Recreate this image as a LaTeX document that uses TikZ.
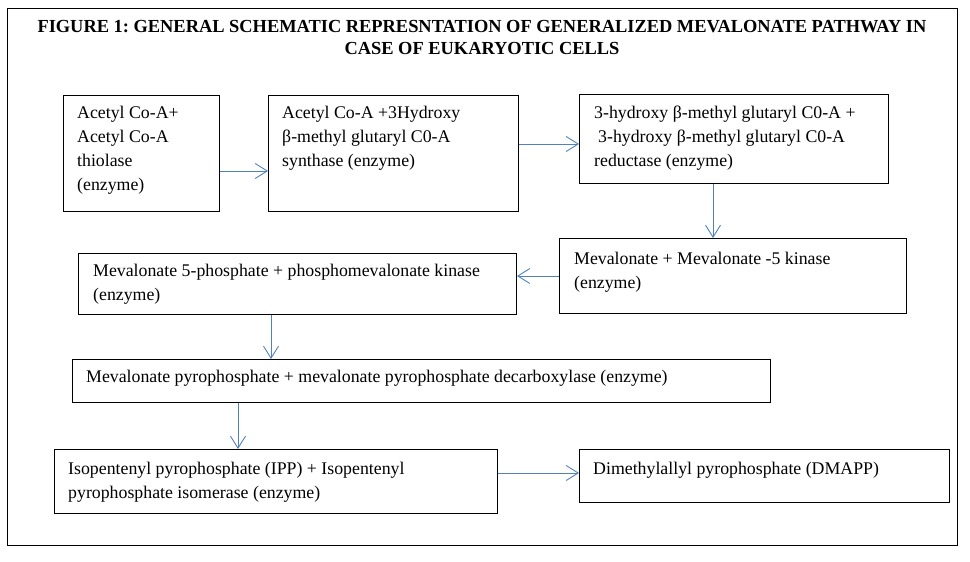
\documentclass[tikz,border=0pt]{standalone}
\usepackage{fontspec}
\setmainfont{Liberation Serif}
\usetikzlibrary{arrows.meta}
\definecolor{arrblue}{HTML}{4F81BD}
\frenchspacing
\tikzset{
  box/.style={draw=black, line width=1pt, rectangle, inner sep=0pt, anchor=north west},
  txt/.style={anchor=north west, inner sep=0pt, align=left, font=\fontsize{17.8}{24}\selectfont},
  ttl/.style={anchor=north, inner sep=0pt, align=center, font=\bfseries\fontsize{18.4}{22}\selectfont},
  arr/.style={draw=arrblue, line width=0.9pt, -{Straight Barb[length=12pt,width=15pt,line width=0.9pt]}}
}
\newcommand{\fl}{\rule{0pt}{13pt}}
\begin{document}
\begin{tikzpicture}[x=1pt,y=-1pt]
\useasboundingbox (0,0) rectangle (970,562);
\node[box, minimum width=950pt, minimum height=537pt] (frame) at (7,8) {};
\node[ttl] (title) at (482,19.5) {\rule{0pt}{13pt}FIGURE 1: GENERAL SCHEMATIC REPRESNTATION OF GENERALIZED MEVALONATE PATHWAY IN\\CASE OF EUKARYOTIC CELLS};
% boxes
\node[box, minimum width=156pt, minimum height=116pt] (b1) at (63,95) {};
\node[box, minimum width=250pt, minimum height=116pt] (b2) at (268,95) {};
\node[box, minimum width=309pt, minimum height=89pt] (b3) at (579,94) {};
\node[box, minimum width=347pt, minimum height=75pt] (b4) at (559,238) {};
\node[box, minimum width=438pt, minimum height=61pt] (b5) at (78,253) {};
\node[box, minimum width=698pt, minimum height=43pt] (b6) at (72,359) {};
\node[box, minimum width=443pt, minimum height=64pt] (b7) at (54,449) {};
\node[box, minimum width=370pt, minimum height=53pt] (b8) at (579,449) {};
% texts
\node[txt] (t1) at (77,105) {\fl Acetyl Co-A+\\Acetyl Co-A\\thiolase\\(enzyme)};
\node[txt] (t2) at (282,105) {\fl Acetyl Co-A +3Hydroxy\\β-methyl glutaryl C0-A\\synthase (enzyme)};
\node[txt] (t3) at (594,105) {\fl 3-hydroxy β-methyl glutaryl C0-A +\\\hspace{4pt}3-hydroxy β-methyl glutaryl C0-A\\reductase (enzyme)};
\node[txt] (t4) at (574,251) {\fl Mevalonate + Mevalonate -5 kinase\\(enzyme)};
\node[txt] (t5) at (93,263) {\fl Mevalonate 5-phosphate + phosphomevalonate kinase\\(enzyme)};
\node[txt] (t6) at (86,369) {\fl Mevalonate pyrophosphate + mevalonate pyrophosphate decarboxylase (enzyme)};
\node[txt] (t7) at (68,461) {\fl Isopentenyl pyrophosphate (IPP) + Isopentenyl\\pyrophosphate isomerase (enzyme)};
\node[txt] (t8) at (593,461) {\fl Dimethylallyl pyrophosphate (DMAPP)};
% arrows
\draw[arr] (b1.east |- 0,171) -- (b2.west |- 0,171);
\draw[arr] (b2.east |- 0,144) -- (b3.west |- 0,144);
\draw[arr] (b3.south -| 713,0) -- (b4.north -| 713,0);
\draw[arr] (b4.west |- 0,276) -- (b5.east |- 0,276);
\draw[arr] (b5.south -| 271,0) -- (b6.north -| 271,0);
\draw[arr] (b6.south -| 238,0) -- (b7.north -| 238,0);
\draw[arr] (b7.east |- 0,473) -- (b8.west |- 0,473);
\end{tikzpicture}
\end{document}
